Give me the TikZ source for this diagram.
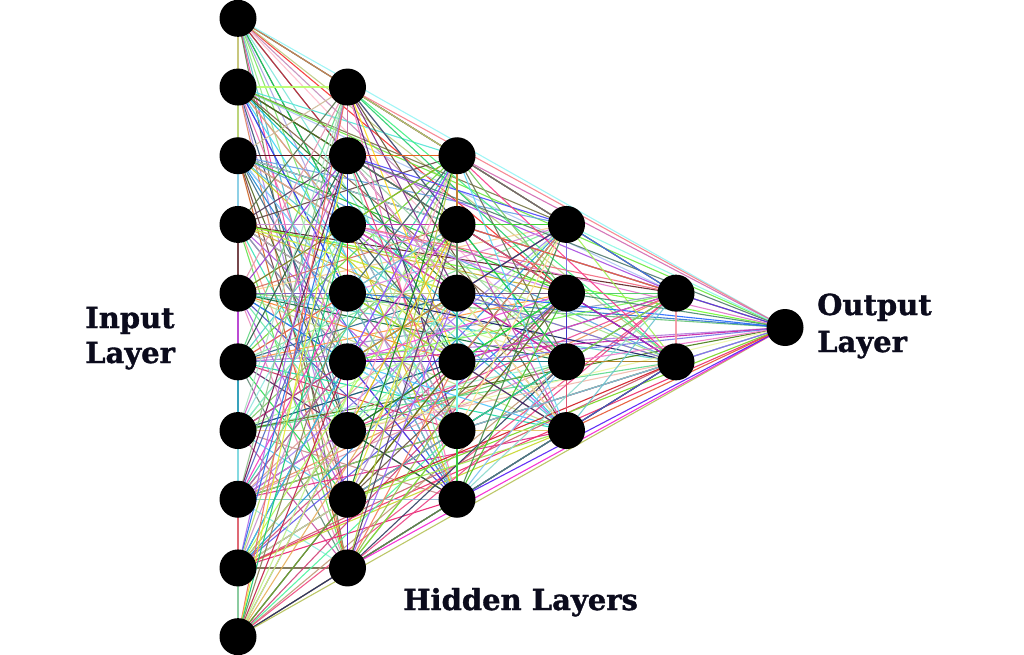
\documentclass[tikz,border=0pt]{standalone}
\usepackage{fontspec}
\setmainfont{DejaVu Serif}[BoldFeatures={FakeBold=1.2}]
\pgfdeclarelayer{background}
\pgfsetlayers{background,main}
\definecolor{txt}{HTML}{0B0B1C}
\begin{document}
\begin{tikzpicture}[x=1pt,y=-1pt,
  neuron/.style={circle,fill=black,draw=none,minimum size=37pt,inner sep=0pt},
  edge/.style={line width=1.1pt,opacity=0.9},
  lbl/.style={font=\bfseries\fontsize{29}{34}\selectfont,text=txt,inner sep=0pt,anchor=base west}]
\useasboundingbox (0,0) rectangle (1024,655);
\foreach \X/\N/\off in {238/10/0, 347.5/8/10, 457/6/18, 566.5/4/24, 676/2/28, 785/1/30} {
  \foreach \k in {1,...,\N} {
    \pgfmathtruncatemacro\id{\off+\k}
    \pgfmathsetmacro\Y{327.5+(\k-(\N+1)/2)*68.7}
    \node[neuron] (n\id) at (\X,\Y) {};
  }
}
\pgfmathsetseed{11}
\begin{pgfonlayer}{background}
\foreach \i in {1,...,30} {
  \pgfmathtruncatemacro\s{\i+1}
  \foreach \j in {\s,...,31} {
    \pgfmathsetmacro\hh{rnd}
    \pgfmathsetmacro\ss{0.25+0.65*rnd}
    \pgfmathsetmacro\rr{rnd}
    \pgfmathsetmacro\bb{\rr<0.15 ? 0.35+0.2*rnd : 0.75+0.25*rnd}
    \convertcolorspec{hsb}{\hh,\ss,\bb}{rgb}\ecspec
    \definecolor{ec}{rgb}{\ecspec}
    \draw[edge,draw=ec] (n\i.center) -- (n\j.center);
  }
}
\end{pgfonlayer}
\node[lbl] (inp) at (85,328) {Input};
\node[lbl] (inl) at (85,363) {Layer};
\node[lbl] (outp) at (817,315) {Output};
\node[lbl] (outl) at (817,352) {Layer};
\node[lbl] (hid) at (403,610) {Hidden Layers};
\end{tikzpicture}
\end{document}
